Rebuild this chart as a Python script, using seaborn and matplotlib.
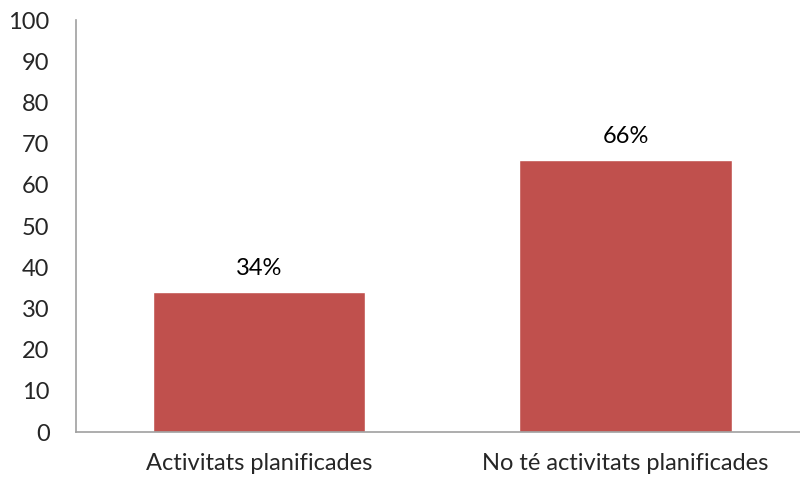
import matplotlib
matplotlib.use("Agg")
import matplotlib.pyplot as plt
import seaborn as sns
import pandas as pd

# Data
categories = ["Activitats planificades", "No té activitats planificades"]
values = [34, 66]
labels = ["34%", "66%"]

sns.set_style("white")
plt.rcParams['font.family'] = ['Lato', 'DejaVu Sans']

df = pd.DataFrame({"cat": categories, "val": values})

fig = plt.figure(figsize=(8, 4.78), dpi=100)
ax = fig.add_axes([0.095, 0.096, 0.905, 0.862])

sns.barplot(data=df, x="cat", y="val", color="#C0504D", saturation=1, width=0.58, ax=ax)

for i, (v, lab) in enumerate(zip(values, labels)):
    ax.annotate(lab, (i, v), xytext=(0, 17), textcoords="offset points",
                ha="center", va="center", fontsize=17, color="black")

ax.set_ylim(0, 100)
ax.set_xlim(-0.5, 1.476)
ax.set_yticks(range(0, 101, 10))
ax.set_xlabel("")
ax.set_ylabel("")
ax.tick_params(axis="y", length=0, pad=19, labelsize=17)
ax.tick_params(axis="x", length=0, pad=15, labelsize=17)
for s in ["top", "right"]:
    ax.spines[s].set_visible(False)
for s in ["left", "bottom"]:
    ax.spines[s].set_color("#a0a0a0")
    ax.spines[s].set_linewidth(1.2)

fig.savefig("out.png", dpi=100)
